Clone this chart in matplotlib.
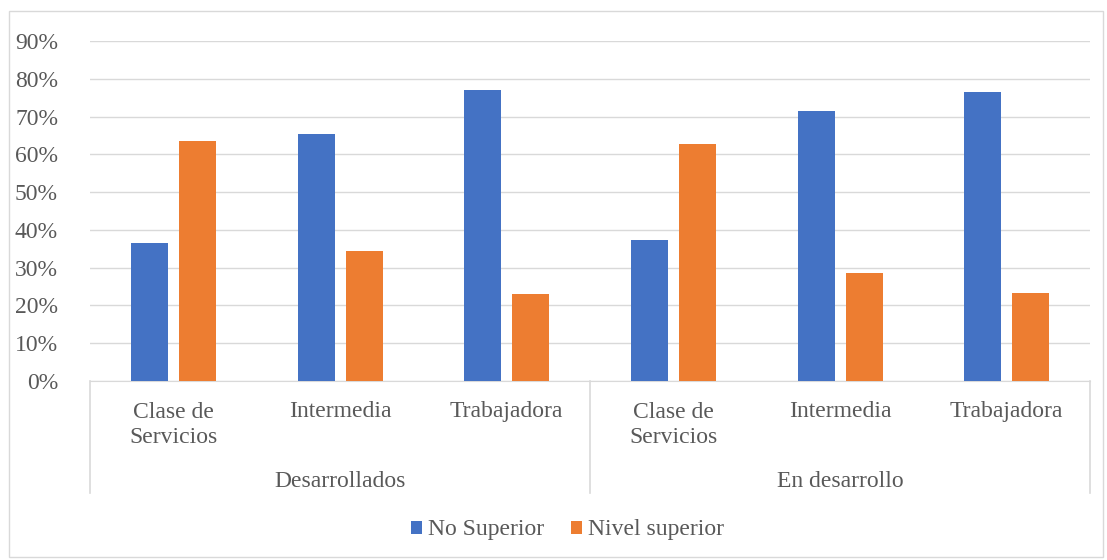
import matplotlib

matplotlib.use("Agg")
import matplotlib.pyplot as plt  # noqa: E402
import numpy as np  # noqa: E402
from matplotlib.patches import Rectangle  # noqa: E402
from matplotlib.ticker import PercentFormatter  # noqa: E402

FONT = ["Liberation Serif", "DejaVu Serif"]
plt.rcParams.update({
    "font.family": FONT,
    "font.size": 17,
    "text.color": "#595959",
})

groups = ["Desarrollados", "En desarrollo"]
classes = ["Clase de\nServicios", "Intermedia", "Trabajadora"]
no_superior = [36.5, 65.5, 77.0, 37.2, 71.5, 76.5]
nivel_superior = [63.5, 34.5, 23.0, 62.8, 28.5, 23.3]
series_names = ["No Superior", "Nivel superior"]
colors = ["#4472c4", "#ed7d31"]

W, H = 1107, 560
AX_H = 340
fig = plt.figure(figsize=(W / 100, H / 100), dpi=100)
ax = fig.add_axes([90 / W, 1 - 381 / H, 1000 / W, AX_H / H])

x = np.arange(len(no_superior))
bw = 0.222
off = 0.144
ax.bar(x - off, no_superior, bw, color=colors[0], label=series_names[0], zorder=3)
ax.bar(x + off, nivel_superior, bw, color=colors[1], label=series_names[1], zorder=3)

ax.set_xlim(-0.5, len(x) - 0.5)
ax.set_ylim(0, 90)
ax.set_yticks(np.arange(0, 91, 10))
ax.yaxis.set_major_formatter(PercentFormatter(decimals=0))
ax.grid(axis="y", color="#d9d9d9", lw=1, zorder=0)
for s in ["top", "right", "left"]:
    ax.spines[s].set_visible(False)
ax.spines["bottom"].set_color("#d9d9d9")
ax.tick_params(axis="y", length=0, pad=23, labelcolor="#595959", labelsize=17)
ax.tick_params(axis="x", length=0, labelbottom=False)

# category labels (two levels)
tr = ax.get_xaxis_transform()
for i in x:
    lbl = classes[i % 3]
    yc = 425 if "\n" in lbl else 411.5
    ax.text(i, -(yc - 381) / AX_H, lbl, transform=tr, ha="center", va="center",
            fontsize=17, linespacing=1.25)
for g, name in enumerate(groups):
    ax.text(g * 3 + 1, -(481.5 - 381) / AX_H, name, transform=tr, ha="center",
            va="center", fontsize=17)
for xv in [-0.5, 2.5, 5.5]:
    ax.plot([xv, xv], [0, -112 / AX_H], transform=tr, color="#d9d9d9", lw=1.2,
            clip_on=False)

leg = fig.legend(loc="center", bbox_to_anchor=(567.5 / W, 1 - 530 / H), ncol=2,
                 frameon=False, prop={"family": FONT, "size": 17},
                 handlelength=0.47, handleheight=0.47,
                 handletextpad=0.25, columnspacing=1.15)

fig.patches.append(Rectangle((9 / W, 3 / H), 1094 / W, 546 / H, transform=fig.transFigure,
                             fill=False, edgecolor="#d9d9d9", lw=1))

fig.savefig("out.png", dpi=100)
